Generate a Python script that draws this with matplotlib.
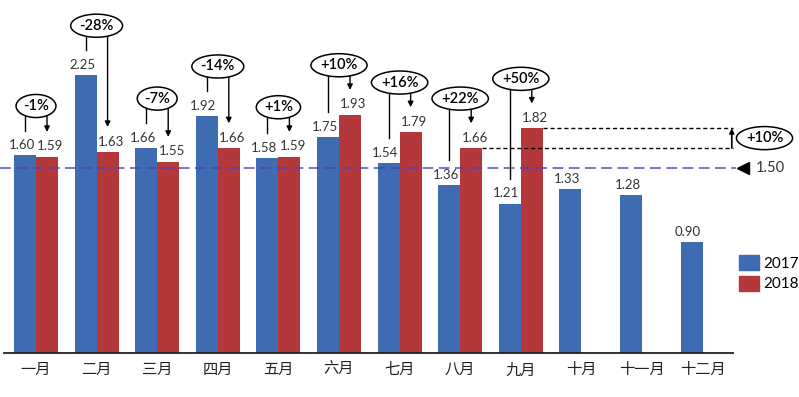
import matplotlib
matplotlib.use('Agg')
import matplotlib.pyplot as plt
from matplotlib.patches import Patch

plt.rcParams['font.family'] = ['Lato', 'DejaVu Sans', 'Noto Sans CJK SC']

months = ['一月', '二月', '三月', '四月', '五月', '六月',
          '七月', '八月', '九月', '十月', '十一月', '十二月']
sales_2017 = [1.60, 2.25, 1.66, 1.92, 1.58, 1.75, 1.54, 1.36, 1.21, 1.33, 1.28, 0.90]
sales_2018 = [1.59, 1.63, 1.55, 1.66, 1.59, 1.93, 1.79, 1.66, 1.82]
ref_level = 1.50

BLUE = '#3f6bb3'
RED = '#b4373b'
TXT = '#333333'

fig = plt.figure(figsize=(7.99, 3.97), dpi=100)
# axes fill the figure width; x unit = one month group (~60.6 px)
ax = fig.add_axes([0, 44 / 397, 1, 353 / 397])
ax.set_xlim(-36 / 60.6, (799 - 36) / 60.6)
ax.set_ylim(0, 353 / 123.5)
for s in ax.spines.values():
    s.set_visible(False)
ax.set_yticks([])

w = 0.363
x17 = [i - w / 2 for i in range(len(sales_2017))]
x18 = [i + w / 2 for i in range(len(sales_2018))]
ax.bar(x17, sales_2017, w, color=BLUE, zorder=2)
ax.bar(x18, sales_2018, w, color=RED, zorder=2)

# value labels, nudged a little apart like the original
for x, v in zip(x17, sales_2017):
    ax.annotate(f'{v:.2f}', (x, v), xytext=(-2.5, 3), textcoords='offset points',
                ha='center', va='bottom', fontsize=9.5, color=TXT)
for x, v in zip(x18, sales_2018):
    ax.annotate(f'{v:.2f}', (x, v), xytext=(2.5, 3), textcoords='offset points',
                ha='center', va='bottom', fontsize=9.5, color=TXT)

# baseline
right_end = (733 - 36) / 60.6
ax.plot([-0.53, right_end], [0, 0], color='#222222', lw=1.3, clip_on=False, zorder=3)

ax.set_xticks(range(len(months)))
ax.set_xticklabels(months, fontsize=11, color='#222222', family='Noto Sans CJK SC')
ax.tick_params(axis='x', length=0, pad=6)

# reference line 1.50
ax.plot([-0.6, right_end + 0.05], [ref_level, ref_level], ls=(0, (6, 3)),
        color='#4a44b8', alpha=0.8, lw=1.3, zorder=3)
ax.plot(right_end + 0.17, ref_level, marker='<', ms=8, color='black', clip_on=False)
ax.text(right_end + 0.37, ref_level, f'{ref_level:.2f}', ha='left', va='center',
        fontsize=10.5, color=TXT)

ell = dict(boxstyle='ellipse,pad=0.08', fc='white', ec='black', lw=1.1)
arrow = dict(arrowstyle='-|>', color='black', lw=1, mutation_scale=8,
             shrinkA=0, shrinkB=0)

# year-over-year change per month
for i, v18 in enumerate(sales_2018):
    v17 = sales_2017[i]
    top = max(v17, v18) + 0.40
    pct = f'{v18 / v17 - 1:+.0%}'
    ax.plot([x17[i], x17[i]], [top, v17 + 0.2], color='black', lw=1, zorder=4)
    ax.annotate('', xy=(x18[i], v18 + 0.2), xytext=(x18[i], top),
                arrowprops=arrow, zorder=4)
    ax.text(i, top, pct, ha='center', va='center', fontsize=10.5, color='black',
            fontweight='semibold', bbox=ell, zorder=5)

# August -> September gap
ax.plot([x18[8] + w / 2, right_end], [sales_2018[8]] * 2, ls=(0, (3, 2)),
        color='black', lw=1, zorder=3)
ax.plot([x18[7] + w / 2, right_end], [sales_2018[7]] * 2, ls=(0, (3, 2)),
        color='black', lw=1, zorder=3)
ax.annotate('', xy=(right_end - 0.02, sales_2018[8]), xytext=(right_end - 0.02, sales_2018[7]),
            arrowprops=dict(arrowstyle='-|>', color='black', lw=1.2, mutation_scale=7,
                            shrinkA=0, shrinkB=0))
ax.text(right_end + 0.52, (sales_2018[7] + sales_2018[8]) / 2,
        f'{sales_2018[8] / sales_2018[7] - 1:+.0%}', ha='center', va='center',
        fontsize=10.5, fontweight='semibold', bbox=ell, zorder=5)

handles = [Patch(color=BLUE), Patch(color=RED)]
fig.legend(handles, ['2017', '2018'], loc='upper left', frameon=False,
           bbox_to_anchor=(739 / 799, 1 - 255 / 397), fontsize=11,
           handlelength=1.3, handleheight=1.1, handletextpad=0.3,
           labelspacing=0.35, borderpad=0, borderaxespad=0)

fig.savefig('out.png', dpi=100)
